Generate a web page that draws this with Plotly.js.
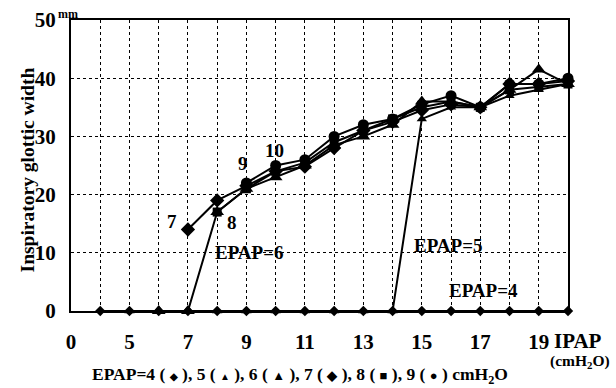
<!DOCTYPE html>
<html><head><meta charset="utf-8">
<script src="https://cdn.plot.ly/plotly-3.0.1.min.js"></script>
<style>body{margin:0;background:#fff}#c{width:616px;height:388px}</style>
</head><body><div id="c"></div>
<script>
// IPAP values (cmH2O)
const ipap = [4,5,6,7,8,9,10,11,12,13,14,15,16,17,18,19,20];
// Inspiratory glottic width (mm) per EPAP
const ipapE4 = [4,5,6,7,8,9,10,11,12,13,14,15,16,17,18,19,20];
const epap4  = [0,0,0,0,0,0,0,0,0,0,0,0,0,0,0,0,0];
const ipapE5 = [5,6,7,8,9,10,11,12,13,14,15,16,17,18,19,20];
const epap5  = [0,0,0,0,0,0,0,0,0,0,33,35,35,37,38,39];
const ipapE6 = [6,7,8,9,10,11,12,13,14,15,16,17,18,19,20];
const epap6  = [0,0,17,21,23,25,28.5,30,32,36,36,35,38,41.5,39];
const ipapE7 = [7,8,9,10,11,12,13,14,15,16,17,18,19,20];
const epap7  = [14,19,21.5,24,24.8,28,31,32.5,34.5,35.5,35,39,39,39.5];
const ipapE8 = [8,9,10,11,12,13,14,15,16,17,18,19,20];
const epap8  = [17,21,24,25.5,29,31,33,35,36,35,38,38.5,39];
const ipapE9 = [9,10,11,12,13,14,15,16,17,18,19,20];
const epap9  = [22,25,26,30,32,33,35.5,37,35,39,39,40];

const xTickVals = [3,4,5,6,7,8,9,10,11,12,13,14,15,16,17,18,19,20];
const xTickText = ['0',' ','5',' ','7',' ','9',' ','11',' ','13',' ','15',' ','17',' ','19',' '];
const yTickVals = [0,10,20,30,40,50];

const serif = 'Liberation Serif, Times New Roman, serif';
function tr(x, y, sym, size){
  return {x:x, y:y, type:'scatter', mode:'lines+markers', cliponaxis:false,
    line:{color:'#000', width:2}, marker:{symbol:sym, size:size, color:'#000'}, showlegend:false};
}
const data = [
  tr(ipapE4, epap4, 'diamond', 8),
  tr(ipapE5, epap5, 'triangle-up', 9),
  tr(ipapE6, epap6, 'triangle-up', 12),
  tr(ipapE7, epap7, 'diamond', 11),
  tr(ipapE8, epap8, 'square', 9),
  tr(ipapE9, epap9, 'circle', 11)
];
const af = {family:serif, size:19, color:'#000', weight:'bold'};
function ann(x,y,t){ return {x:x,y:y,xref:'x',yref:'y',text:t,showarrow:false,font:af,xanchor:'center',yanchor:'middle'}; }
function pann(x,y,t,size,extra){ return Object.assign({xref:'paper',yref:'paper',x:x,y:y,text:t,showarrow:false,
  xanchor:'center',yanchor:'middle',font:{family:serif,size:size,color:'#000',weight:'bold'}},extra||{}); }
const s = (c,n) => '<span style="font-size:'+n+'px">'+c+'</span>';
const annotations = [
  ann(6.45,15.3,'7'), ann(8.5,15.2,'8'), ann(8.9,25.4,'9'), ann(9.97,27.5,'10'),
  ann(9.1,10,'EPAP=6'), ann(15.9,11.2,'EPAP=5'), ann(17.1,3.6,'EPAP=4'),
  pann(-0.0885,0.483,'Inspiratory glottic width',19.5,{textangle:-90}),
  pann(-0.006,1.022,'mm',12),
  pann(0.968,-0.103,'IPAP',21,{xanchor:'left'}),
  pann(0.96,-0.172,'(cmH<sub>2</sub>O)',15.5,{xanchor:'left'}),
  pann(0.461,-0.22,'EPAP=4 ( '+s('◆',10)+' ), 5 ( '+s('▲',10)+' ), 6 ( '+s('▲',13)+' ), 7 ( '+s('◆',13)+' ), 8 ( '+s('■',13)+' ), 9 ( '+s('●',13)+' ) cmH<sub>2</sub>O',17.5)
];
const layout = {
  width:616, height:388, margin:{l:71,r:48,t:20,b:77},
  paper_bgcolor:'#fff', plot_bgcolor:'#fff', showlegend:false,
  xaxis:{range:[3,20], tickvals:xTickVals, ticktext:xTickText, showgrid:true, griddash:'dot',
    gridcolor:'#000', gridwidth:1, zeroline:false, showline:true, mirror:true, linecolor:'#000', linewidth:2,
    ticks:'', ticklabelstandoff:11, tickfont:{family:serif,size:21,color:'#000',weight:'bold'}},
  yaxis:{range:[0,50], tickvals:yTickVals, showgrid:true, griddash:'dot', gridcolor:'#000', gridwidth:1,
    zeroline:false, showline:true, mirror:true, linecolor:'#000', linewidth:2, ticks:'',
    ticklabelstandoff:9, tickfont:{family:serif,size:21,color:'#000',weight:'bold'}},
  annotations:annotations
};
Plotly.newPlot('c', data, layout, {displayModeBar:false, staticPlot:true});
</script></body></html>
